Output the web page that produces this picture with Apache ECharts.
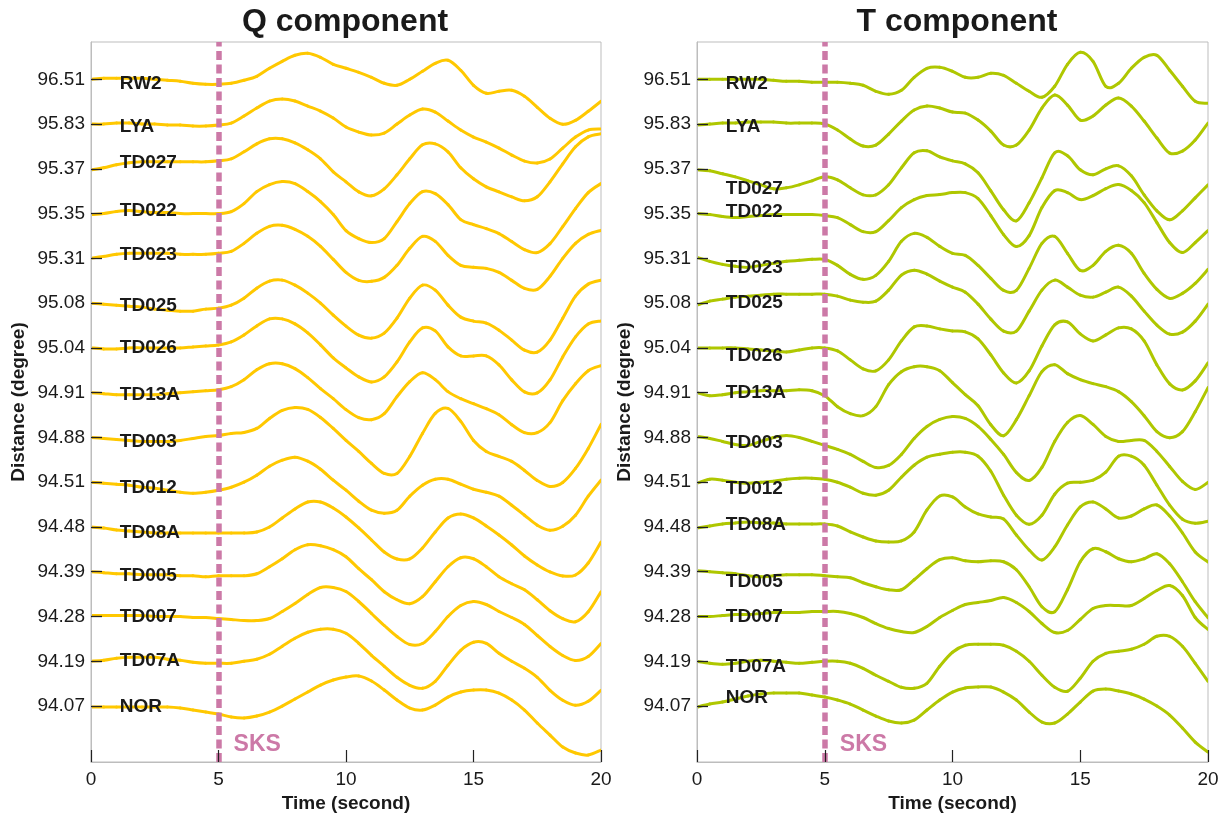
<!DOCTYPE html>
<html>
<head>
<meta charset="utf-8">
<script src="https://cdn.jsdelivr.net/npm/echarts@6/dist/echarts.min.js"></script>
<style>html,body{margin:0;padding:0;background:#fff}#chart{width:1229px;height:820px}</style>
</head>
<body>
<div id="chart"></div>
<script>
// ---------- data ----------
const stations = ['RW2','LYA','TD027','TD022','TD023','TD025','TD026','TD13A','TD003','TD012','TD08A','TD005','TD007','TD07A','NOR'];
const distanceLabels = ['96.51','95.83','95.37','95.35','95.31','95.08','95.04','94.91','94.88','94.51','94.48','94.39','94.28','94.19','94.07'];
const times = [0,0.5,1,1.5,2,2.5,3,3.5,4,4.5,5,5.5,6,6.5,7,7.5,8,8.5,9,9.5,10,10.5,11,11.5,12,12.5,13,13.5,14,14.5,15,15.5,16,16.5,17,17.5,18,18.5,19,19.5,20];
const xTicks = [0,5,10,15,20];
const sksTime = 5;

// Q component amplitudes (trace spacing = 44.77 units)
const qRW2   = [0,1,1,1,1,0,-1,-2,-4,-5,-5,-4,-1,3,11,18,24,26,22,15,11,7,2,-4,-6,0,8,16,19,9,-6,-14,-12,-11,-17,-28,-39,-45,-41,-32,-22];
const qLYA   = [0,0,1,1,0,0,-1,-1,-2,-2,-1,1,8,16,23,25,23,18,13,6,-3,-8,-11,-9,0,9,15,12,3,-6,-13,-18,-24,-31,-37,-39,-35,-24,-13,-6,-5];
const qTD027 = [-1,1,4,6,7,7,7,7,7,7,8,10,17,25,30,30,26,19,10,-3,-13,-23,-27,-20,-6,10,24,25,17,1,-10,-18,-23,-28,-32,-28,-13,5,22,32,35];
const qTD022 = [-1,0,2,3,2,1,1,0,0,0,0,2,10,22,29,32,30,22,12,-1,-17,-25,-29,-25,-8,10,22,20,9,-6,-11,-15,-20,-28,-36,-39,-30,-13,5,21,30];
const qTD023 = [0,2,4,5,5,5,5,4,4,4,5,7,15,25,32,33,29,22,12,-1,-14,-22,-23,-19,-7,10,22,17,3,-7,-9,-10,-14,-22,-30,-31,-18,0,15,24,28];
const qTD025 = [0,-1,-2,-3,-4,-6,-7,-8,-8,-6,-5,-2,5,15,22,23,18,10,0,-12,-23,-32,-35,-30,-15,5,18,13,-2,-14,-18,-20,-27,-37,-47,-49,-37,-15,7,19,23];
const qTD026 = [0,-1,-1,0,0,0,0,0,1,2,3,6,13,22,29,29,24,15,3,-10,-20,-29,-34,-29,-14,6,20,17,1,-8,-8,-8,-17,-32,-44,-45,-32,-9,11,24,27];
const qTD13A = [0,-1,-2,-2,-2,-2,-1,0,1,2,3,6,13,23,29,29,24,15,4,-6,-17,-25,-27,-21,-4,11,20,13,1,-6,-11,-16,-22,-32,-40,-40,-30,-8,9,22,27];
const qTD003 = [0,-1,-2,-3,-4,-4,-4,-3,-1,1,2,4,5,9,19,27,30,28,20,9,-3,-14,-26,-36,-36,-19,4,24,29,16,-3,-14,-19,-24,-33,-43,-49,-45,-31,-11,13];
const qTD012 = [0,-1,-2,-3,-5,-6,-8,-10,-11,-10,-8,-5,0,7,16,22,25,21,13,2,-8,-19,-28,-31,-28,-14,-3,3,3,-2,-7,-10,-14,-23,-33,-43,-48,-44,-33,-14,2];
const qTD08A = [0,-1,-3,-4,-5,-6,-6,-6,-6,-6,-6,-6,-6,-5,0,9,18,25,25,19,10,-1,-13,-25,-32,-32,-21,-5,9,13,9,1,-8,-18,-29,-38,-45,-49,-48,-36,-15];
const qTD005 = [0,-1,-2,-2,-3,-3,-3,-4,-4,-5,-4,-4,-4,-2,5,13,22,27,26,22,15,3,-8,-20,-28,-32,-25,-10,5,14,13,5,-5,-12,-18,-28,-39,-47,-50,-40,-20];
const qTD007 = [1,1,1,1,1,0,0,0,-1,-1,-2,-3,-4,-4,-2,5,13,22,29,29,25,15,3,-9,-20,-28,-27,-15,0,11,15,12,5,-1,-8,-19,-30,-39,-44,-40,-27];
const qTD07A = [0,1,3,4,4,4,2,1,-1,-2,-2,-2,0,2,7,15,23,29,32,32,28,18,6,-5,-16,-24,-27,-20,-4,11,19,18,8,0,-7,-16,-29,-39,-44,-40,-29];
const qNOR   = [-1,-1,-1,-1,-1,-1,-1,-2,-4,-6,-8,-11,-12,-10,-6,0,7,14,21,26,29,30,25,16,6,-2,-4,1,9,14,16,16,13,6,-4,-17,-29,-41,-47,-49,-44];

// T component amplitudes
const tRW2   = [0,0,0,0,0,0,-1,-2,-2,-3,-3,-3,-4,-6,-12,-15,-11,2,11,12,8,2,2,6,4,-4,-12,-18,-7,15,27,18,-7,-4,11,22,24,9,-7,-22,-24];
const tLYA   = [-1,0,1,1,2,2,2,1,1,1,0,-6,-15,-22,-21,-10,3,14,18,16,12,11,4,-7,-21,-21,-6,16,29,19,4,8,19,26,18,3,-14,-29,-27,-16,1];
const tTD027 = [-1,-2,-5,-8,-12,-16,-20,-19,-16,-12,-8,-11,-19,-26,-26,-16,1,16,18,12,8,5,-4,-22,-41,-52,-34,-9,16,13,-1,-6,0,3,-7,-26,-42,-51,-42,-29,-16];
const tTD022 = [0,-1,-3,-4,-3,-2,-1,-1,-1,-1,-2,-4,-11,-18,-18,-7,6,14,18,19,21,21,15,-2,-21,-33,-22,6,23,21,14,18,25,29,23,11,-9,-29,-39,-29,-17];
const tTD023 = [1,-3,-6,-8,-9,-7,-5,-3,-2,-1,-1,-7,-16,-21,-17,-3,17,25,21,12,5,3,-7,-20,-32,-32,-10,15,22,5,-12,-7,7,13,5,-15,-31,-40,-35,-25,-11];
const tTD025 = [-2,2,4,6,7,8,9,9,9,9,9,7,3,1,2,13,28,33,29,22,16,11,-1,-16,-28,-28,-8,13,23,16,8,6,11,16,7,-8,-22,-31,-29,-18,-1];
const tTD026 = [0,0,0,0,-1,-2,-3,-4,-2,0,0,-3,-12,-21,-23,-12,7,21,22,19,17,16,9,-7,-25,-35,-23,2,23,26,14,7,13,20,19,7,-17,-36,-42,-33,-15];
const tTD13A = [0,-3,-2,0,1,2,2,2,3,2,-3,-14,-21,-23,-14,8,21,26,26,22,10,-2,-13,-32,-43,-27,-3,21,28,19,13,9,6,1,-9,-23,-39,-45,-39,-19,5];
const tTD003 = [1,-1,-4,-7,-8,-4,0,2,0,-4,-8,-12,-17,-24,-30,-28,-17,-1,11,18,21,19,11,-2,-17,-35,-43,-30,-4,15,22,13,1,-4,-3,-3,-14,-29,-44,-52,-45];
const tTD012 = [-1,3,2,0,-1,0,1,3,4,4,3,0,-5,-11,-13,-8,5,17,25,28,30,30,26,11,-13,-33,-42,-33,-12,-1,0,2,10,26,26,17,-3,-23,-37,-41,-39];
const tTD08A = [-1,1,3,4,5,4,4,3,3,3,3,1,-5,-10,-14,-15,-14,-5,17,31,30,20,13,10,8,-8,-23,-33,-20,2,20,25,18,9,11,18,22,11,-6,-25,-35];
const tTD005 = [1,0,-1,-2,-4,-5,-4,-3,-3,-3,-4,-5,-6,-11,-15,-18,-18,-8,3,12,14,11,10,11,10,2,-15,-35,-40,-18,10,23,20,13,10,13,18,8,-10,-30,-46];
const tTD007 = [0,0,1,2,2,3,4,4,4,5,5,5,3,-1,-7,-12,-15,-16,-10,-1,6,12,14,16,19,14,5,-7,-16,-14,-3,8,11,11,11,18,26,31,21,-1,-13];
const tTD07A = [0,-2,-3,-2,0,1,0,-1,-2,-1,0,0,-2,-7,-14,-20,-26,-27,-22,-5,9,16,17,17,16,10,0,-14,-26,-30,-17,0,8,10,12,17,25,25,15,-2,-20];
const tNOR   = [-1,2,4,7,10,12,13,13,13,11,9,6,2,-4,-10,-15,-17,-14,-4,6,14,18,19,19,14,6,-6,-16,-17,-8,4,15,17,15,12,7,0,-9,-22,-36,-46];

// station-name label offsets from each trace baseline (same amplitude units)
const qLabelOffsets = [-4,-2.4,5.7,2.6,3.4,-2.4,0,-1.7,-4,-5.6,-5.6,-4.3,-0.7,0.7,-0.7];
const tLabelOffsets = [-4,-2.6,-19.5,1.9,-9.9,0,-7.8,0.4,-5.8,-6.1,2,-9.9,-0.2,-5.4,7.8];

const qTraces = [qRW2,qLYA,qTD027,qTD022,qTD023,qTD025,qTD026,qTD13A,qTD003,qTD012,qTD08A,qTD005,qTD007,qTD07A,qNOR];
const tTraces = [tRW2,tLYA,tTD027,tTD022,tTD023,tTD025,tTD026,tTD13A,tTD003,tTD012,tTD08A,tTD005,tTD007,tTD07A,tNOR];

// ---------- styling ----------
const GAIN = 1 / 44.77;          // amplitude units per trace spacing
const N = stations.length;
const LABEL_T = 1.11;
const SKS_LABEL = [5.57, -0.87];
const Q_COLOR = '#FFC800';
const T_COLOR = '#AFC700';
const SKS_COLOR = '#CC79A7';
const TEXT = '#1a1a1a';
const FONT = '"Liberation Sans", Arial, Helvetica, sans-serif';
const baseOf = i => N - 1 - i;
const tickVals = stations.map((s, i) => baseOf(i));

function xAxisFor(g) {
  return {
    type: 'value', gridIndex: g, min: 0, max: 20, interval: 5, z: 10,
    axisLine: {show: true, onZero: false, lineStyle: {color: '#bdbdbd', width: 1}},
    axisTick: {show: true, inside: true, length: 12, lineStyle: {color: '#222', width: 1.2}},
    axisLabel: {fontSize: 19, color: TEXT, margin: 8, fontFamily: FONT, customValues: xTicks},
    splitLine: {show: false},
    name: 'Time (second)', nameLocation: 'middle', nameGap: 30,
    nameTextStyle: {fontSize: 19, fontWeight: 'bold', color: TEXT, fontFamily: FONT}
  };
}
function yAxisFor(g) {
  return {
    type: 'value', gridIndex: g, min: -1.25, max: 14.833, z: 10,
    axisLine: {show: true, onZero: false, lineStyle: {color: '#bdbdbd', width: 1}},
    axisTick: {show: true, inside: true, length: 11, customValues: tickVals, lineStyle: {color: '#222', width: 1.3}},
    axisLabel: {customValues: tickVals, margin: 6, fontSize: 19, color: TEXT, fontFamily: FONT,
      formatter: v => distanceLabels[N - 1 - Math.round(v)]},
    splitLine: {show: false},
    name: 'Distance (degree)', nameLocation: 'middle', nameGap: 63,
    nameTextStyle: {fontSize: 19, fontWeight: 'bold', color: TEXT, fontFamily: FONT}
  };
}

// smooth trace: each data item draws one Catmull-Rom bezier segment to the next sample
function makeTraceRenderer(color) {
  return function (params, api) {
    const i = params.dataIndex;
    const n = params.dataInsideLength;
    if (i >= n - 1) return null;
    const pt = k => api.coord([api.value(0, k), api.value(1, k)]);
    const p0 = pt(Math.max(i - 1, 0));
    const p1 = pt(i);
    const p2 = pt(i + 1);
    const p3 = pt(Math.min(i + 2, n - 1));
    return {
      type: 'bezierCurve',
      shape: {
        x1: p1[0], y1: p1[1], x2: p2[0], y2: p2[1],
        cpx1: p1[0] + (p2[0] - p0[0]) / 6, cpy1: p1[1] + (p2[1] - p0[1]) / 6,
        cpx2: p2[0] - (p3[0] - p1[0]) / 6, cpy2: p2[1] - (p3[1] - p1[1]) / 6
      },
      style: {stroke: color, lineWidth: 3, fill: null, lineCap: 'round'}
    };
  };
}

const series = [];
function addPanel(traces, offsets, color, g) {
  traces.forEach((amp, i) => {
    series.push({
      type: 'custom', xAxisIndex: g, yAxisIndex: g, silent: true, clip: true, z: 2,
      renderItem: makeTraceRenderer(color),
      data: times.map((t, j) => [t, baseOf(i) + amp[j] * GAIN])
    });
  });
  series.push({
    type: 'scatter', xAxisIndex: g, yAxisIndex: g, symbolSize: 1, silent: true, z: 5,
    itemStyle: {color: 'rgba(0,0,0,0)', opacity: 1},
    label: {show: true, position: 'right', distance: 0, formatter: '{b}', fontSize: 19, fontWeight: 'bold', color: TEXT, fontFamily: FONT, opacity: 1},
    data: stations.map((s, i) => ({name: s, value: [LABEL_T, baseOf(i) + offsets[i] * GAIN]})),
    markLine: {
      silent: true, symbol: ['none', 'none'], label: {show: false}, animation: false,
      lineStyle: {color: SKS_COLOR, type: [9, 4.5], width: 5.5, opacity: 1},
      emphasis: {disabled: true},
      data: [{xAxis: sksTime}]
    }
  });
  series.push({
    type: 'scatter', xAxisIndex: g, yAxisIndex: g, symbolSize: 1, silent: true, z: 6,
    itemStyle: {color: 'rgba(0,0,0,0)', opacity: 1},
    label: {show: true, position: 'right', distance: 0, formatter: 'SKS', fontSize: 23, fontWeight: 'bold', color: SKS_COLOR, fontFamily: FONT, opacity: 1},
    data: [{name: 'SKS', value: SKS_LABEL}]
  });
}
addPanel(qTraces, qLabelOffsets, Q_COLOR, 0);
addPanel(tTraces, tLabelOffsets, T_COLOR, 1);

const chart = echarts.init(document.getElementById('chart'), null, {renderer: 'canvas'});
chart.setOption({
  animation: false,
  backgroundColor: '#ffffff',
  title: [
    {text: 'Q component', left: 345, top: 6, padding: 0, textAlign: 'center',
     textStyle: {fontSize: 32, fontWeight: 'bold', color: TEXT, fontFamily: FONT}},
    {text: 'T component', left: 957, top: 6, padding: 0, textAlign: 'center',
     textStyle: {fontSize: 32, fontWeight: 'bold', color: TEXT, fontFamily: FONT}}
  ],
  grid: [
    {left: 91, top: 42, width: 510, height: 720, show: true, borderColor: '#bdbdbd', borderWidth: 1, backgroundColor: 'transparent'},
    {left: 697, top: 42, width: 511, height: 720, show: true, borderColor: '#bdbdbd', borderWidth: 1, backgroundColor: 'transparent'}
  ],
  xAxis: [xAxisFor(0), xAxisFor(1)],
  yAxis: [yAxisFor(0), yAxisFor(1)],
  series: series
});
</script>
</body>
</html>
